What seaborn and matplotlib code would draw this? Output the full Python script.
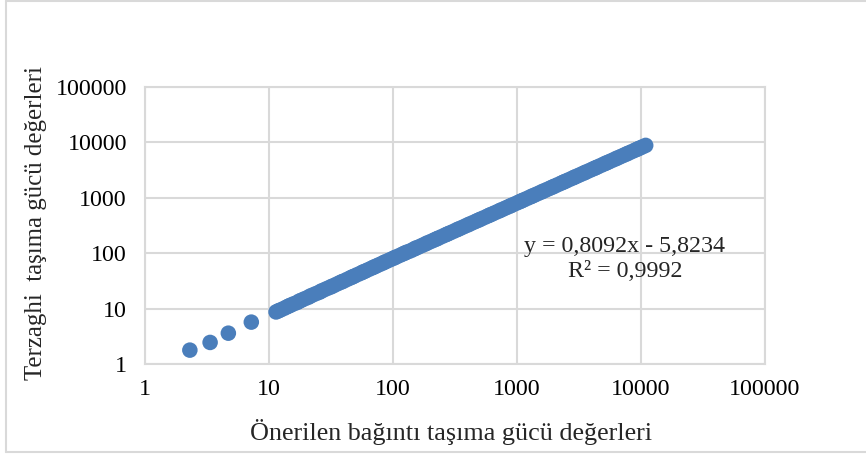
"""Log-log scatter: proposed relation vs Terzaghi bearing capacity values."""
import matplotlib
matplotlib.use("Agg")
import matplotlib.pyplot as plt
from matplotlib.lines import Line2D
from matplotlib.ticker import FixedLocator, FixedFormatter
import pandas as pd
import seaborn as sns

# values
onerilen = [
    2.3, 3.35, 4.7, 7.2,
    11.4, 11.9, 12.3, 13.1, 13.8, 14.4, 14.9, 15.8, 16.9, 17.5, 18.2, 19.3,
    20.6, 21.3, 22.1, 23.7, 25.3, 26.1, 27.0, 28.9, 30.8, 31.9, 33.1, 35.2,
    37.4, 38.8, 40.2, 42.9, 45.6, 47.0, 48.7, 51.8, 55.3, 57.2, 59.4, 63.1,
    67.0, 69.8, 72.5, 77.0, 81.6, 84.7, 88.1, 93.6, 99.4, 103, 107, 114,
    121, 125, 130, 139, 147, 152, 158, 169, 179, 186, 193, 206, 218, 226,
    234, 249, 265, 275, 286, 304, 322, 334, 347, 369, 392, 407, 423, 449,
    476, 495, 514, 546, 580, 602, 626, 664, 705, 732, 762, 809, 858, 892,
    927, 985, 1045, 1085, 1128, 1197, 1270, 1319, 1372, 1457, 1547, 1606,
    1670, 1774, 1882, 1955, 2033, 2158, 2290, 2379, 2473, 2625, 2787, 2896,
    3010, 3195, 3392, 3524, 3663, 3889, 4128, 4290, 4458, 4732, 5024, 5220,
    5425, 5760, 6115, 6354, 6603, 7010, 7441, 7732, 8036, 8531, 9057, 9410,
    9781, 10330, 10910,
]
terzaghi = [
    1.78, 2.45, 3.6, 5.7,
    8.7, 9.1, 9.4, 10.0, 10.6, 11.1, 11.5, 12.2, 12.9, 13.6, 14.1, 15.0,
    15.9, 16.6, 17.3, 18.5, 19.6, 20.4, 21.2, 22.7, 24.1, 25.0, 25.9, 27.7,
    29.5, 30.6, 31.6, 33.9, 36.1, 37.3, 38.6, 41.2, 43.9, 45.7, 47.3, 50.4,
    53.6, 55.8, 58.1, 61.8, 65.4, 68.2, 70.9, 75.4, 80.0, 83.1, 86.2, 91.9,
    97.6, 101, 105, 111, 118, 123, 127, 136, 144, 150, 156, 166, 176, 182,
    189, 201, 214, 222, 231, 245, 260, 270, 280, 298, 317, 329, 342, 363,
    385, 400, 416, 441, 469, 487, 506, 537, 570, 592, 616, 655, 694, 722,
    750, 797, 845, 878, 913, 968, 1027, 1067, 1110, 1179, 1252, 1299,
    1351, 1435, 1523, 1582, 1645, 1746, 1853, 1925, 2001, 2124, 2255, 2343,
    2436, 2585, 2745, 2851, 2964, 3147, 3340, 3471, 3607, 3829, 4065, 4224,
    4390, 4661, 4948, 5141, 5343, 5672, 6021, 6257, 6503, 6903, 7329, 7615,
    7915, 8359, 8830,
]
tick_values = [1, 10, 100, 1000, 10000, 100000]
tick_labels = ["1", "10", "100", "1000", "10000", "100000"]
equation = "y = 0,8092x - 5,8234\nR² = 0,9992"

sns.set_theme(style="white")
plt.rcParams["font.family"] = ["Liberation Serif", "DejaVu Serif"]

W, H = 866, 455
fig = plt.figure(figsize=(W / 100, H / 100), dpi=100)
ax = fig.add_axes([145 / W, (H - 364) / H, 620 / W, 277 / H])

df = pd.DataFrame({"x": onerilen, "y": terzaghi})
sns.scatterplot(data=df, x="x", y="y", ax=ax, s=125, color="#4a7ebb",
                edgecolor="none", linewidth=0, zorder=3)

ax.set_xscale("log")
ax.set_yscale("log")
ax.set_xlim(1, 100000)
ax.set_ylim(1, 100000)
for axis in (ax.xaxis, ax.yaxis):
    axis.set_major_locator(FixedLocator(tick_values))
    axis.set_major_formatter(FixedFormatter(tick_labels))
    axis.set_minor_locator(FixedLocator([]))
ax.tick_params(axis="both", length=0, labelsize=17.3, colors="black")
ax.tick_params(axis="x", pad=11)
ax.tick_params(axis="y", pad=13)
ax.grid(True, color="#d9d9d9", linewidth=1.5, zorder=0)
for sp in ax.spines.values():
    sp.set_color("#d9d9d9")
    sp.set_linewidth(1.5)

ax.set_xlabel("Önerilen bağıntı taşıma gücü değerleri", fontsize=18.8)
ax.set_ylabel("Terzaghi  taşıma gücü değerleri", fontsize=17.9)
ax.xaxis.set_label_coords(0.493, -0.2)
ax.yaxis.set_label_coords(-0.158, 0.509)

ax.text((625 - 145) / 620, (364 - 259) / 277, equation, transform=ax.transAxes,
        ha="center", va="center", fontsize=17.3, linespacing=1.3)

# outer chart frame
border = dict(color="#d9d9d9", linewidth=1.5, transform=fig.transFigure)
fig.add_artist(Line2D([6 / W, 6 / W], [0.006, 0.998], **border))
fig.add_artist(Line2D([6 / W, 1], [0.998, 0.998], **border))
fig.add_artist(Line2D([6 / W, 1], [(H - 452) / H, (H - 452) / H], **border))

fig.savefig("out.png", dpi=100)
